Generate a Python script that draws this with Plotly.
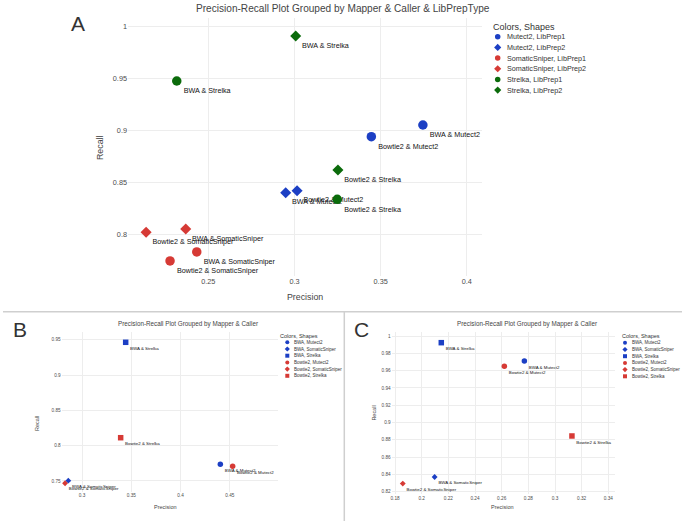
import plotly.graph_objects as go

W, H = 685, 524
FONT = "Liberation Sans, Arial, sans-serif"

BLUE = "#1c3fc4"
RED = "#d63a35"
GREEN = "#0b6b0b"

# ---------------- Panel A data ----------------
a_mapper = ["BWA", "Bowtie2"] * 6
a_caller = ["Mutect2"] * 4 + ["SomaticSniper"] * 4 + ["Strelka"] * 4
a_libprep = ["LibPrep1", "LibPrep1", "LibPrep2", "LibPrep2"] * 3
a_precision = [0.3745, 0.3446, 0.2949, 0.3015,
               0.2433, 0.2278, 0.2369, 0.2139,
               0.2317, 0.3248, 0.3007, 0.3252]
a_recall = [0.9053, 0.8940, 0.8400, 0.8420,
            0.7830, 0.7743, 0.8050, 0.8020,
            0.9477, 0.8337, 0.9910, 0.8620]
a_callers_order = ["Mutect2", "SomaticSniper", "Strelka"]
a_libprep_order = ["LibPrep1", "LibPrep2"]

# ---------------- Panel B data ----------------
b_mapper = ["BWA", "Bowtie2", "BWA", "Bowtie2", "BWA", "Bowtie2"]
b_caller = ["Mutect2", "Mutect2", "SomaticSniper", "SomaticSniper", "Strelka", "Strelka"]
b_precision = [0.4403, 0.4528, 0.2861, 0.2828, 0.3443, 0.3392]
b_recall = [0.7737, 0.7708, 0.7504, 0.7467, 0.9465, 0.8113]

# ---------------- Panel C data ----------------
c_mapper = ["BWA", "Bowtie2", "BWA", "Bowtie2", "BWA", "Bowtie2"]
c_caller = ["Mutect2", "Mutect2", "SomaticSniper", "SomaticSniper", "Strelka", "Strelka"]
c_precision = [0.2770, 0.2620, 0.2097, 0.1858, 0.2147, 0.3127]
c_recall = [0.9710, 0.9650, 0.8370, 0.8293, 0.9923, 0.8844]

bc_mapper_order = ["BWA", "Bowtie2"]
bc_caller_order = ["Mutect2", "SomaticSniper", "Strelka"]

caller_color_a = {"Mutect2": BLUE, "SomaticSniper": RED, "Strelka": GREEN}
libprep_symbol = {"LibPrep1": "circle", "LibPrep2": "diamond"}
mapper_color = {"BWA": BLUE, "Bowtie2": RED}
caller_symbol = {"Mutect2": "circle", "SomaticSniper": "diamond", "Strelka": "square"}

fig = go.Figure()


def px_x(p):
    return p / W


def px_y(p):
    return 1 - p / H


# ---------- Panel A traces ----------
a_sizes = {"circle": 9.5, "diamond": 8.5}
for cal in a_callers_order:
    for lp in a_libprep_order:
        idx = [i for i in range(len(a_mapper)) if a_caller[i] == cal and a_libprep[i] == lp]
        sym = libprep_symbol[lp]
        fig.add_trace(go.Scatter(
            x=[a_precision[i] for i in idx],
            y=[a_recall[i] for i in idx],
            text=[f"{a_mapper[i]} & {a_caller[i]}" for i in idx],
            mode="markers+text", textposition="bottom right",
            textfont=dict(size=7.2, color="#111111", family=FONT),
            marker=dict(color=caller_color_a[cal], symbol=sym, size=a_sizes[sym]),
            xaxis="x", yaxis="y", showlegend=False, cliponaxis=False,
        ))


def add_bc(mapper, caller, prec, rec, xa, ya):
    for m in bc_mapper_order:
        for cal in bc_caller_order:
            idx = [i for i in range(len(mapper)) if mapper[i] == m and caller[i] == cal]
            sym = caller_symbol[cal]
            fig.add_trace(go.Scatter(
                x=[prec[i] for i in idx],
                y=[rec[i] for i in idx],
                text=[f"{mapper[i]} & {caller[i]}" for i in idx],
                mode="markers+text", textposition="bottom right",
                textfont=dict(size=4.4, color="#111111", family=FONT),
                marker=dict(color=mapper_color[m], symbol=sym,
                            size={"circle": 5.5, "diamond": 4.5, "square": 5.5}[sym]),
                xaxis=xa, yaxis=ya, showlegend=False, cliponaxis=False,
            ))


add_bc(b_mapper, b_caller, b_precision, b_recall, "x2", "y2")
add_bc(c_mapper, c_caller, c_precision, c_recall, "x3", "y3")

# ---------- manual legends (pixel overlay axis) ----------
annotations = []


def legend(title, entries, title_x, title_y, mk_x, txt_x, y0, dy, title_size, item_size, mk_size):
    annotations.append(dict(text=title, x=px_x(title_x), y=px_y(title_y), xref="paper", yref="paper",
                            xanchor="left", yanchor="middle", showarrow=False,
                            font=dict(size=title_size, color="#333333", family=FONT)))
    xs, ys, cols, syms = [], [], [], []
    for k, (label, col, sym) in enumerate(entries):
        yy = y0 + k * dy
        xs.append(mk_x)
        ys.append(yy)
        cols.append(col)
        syms.append(sym)
        annotations.append(dict(text=label, x=px_x(txt_x), y=px_y(yy), xref="paper", yref="paper",
                                xanchor="left", yanchor="middle", showarrow=False,
                                font=dict(size=item_size, color="#333333", family=FONT)))
    fig.add_trace(go.Scatter(x=xs, y=ys, mode="markers", xaxis="x4", yaxis="y4",
                             marker=dict(color=cols, symbol=syms, size=mk_size),
                             showlegend=False, hoverinfo="skip", cliponaxis=False))


a_entries = [(f"{c}, {lp}", caller_color_a[c], libprep_symbol[lp])
             for c in a_callers_order for lp in a_libprep_order]
bc_entries = [(f"{m}, {c}", mapper_color[m], caller_symbol[c])
              for m in bc_mapper_order for c in bc_caller_order]

legend("Colors, Shapes", a_entries, 491, 26.7, 497.7, 504.5, 36.8, 10.65, 9, 7.2, 5.5)
legend("Colors, Shapes", bc_entries, 278.3, 335.5, 287.3, 291.5, 342.3, 6.7, 5.5, 4.5, 4)
legend("Colors, Shapes", bc_entries, 620.3, 335.5, 625, 629.5, 342.8, 6.7, 5.5, 4.5, 4)

# ---------- titles, axis titles, panel letters ----------
def ann(text, x, y, size, color="#444444", angle=0, anchor="center"):
    annotations.append(dict(text=text, x=px_x(x), y=px_y(y), xref="paper", yref="paper",
                            xanchor=anchor, yanchor="middle", showarrow=False, textangle=angle,
                            font=dict(size=size, color=color, family=FONT)))


ann("Precision-Recall Plot Grouped by Mapper & Caller & LibPrepType", 343, 8, 10.1)
ann("Precision-Recall Plot Grouped by Mapper & Caller", 188, 324, 6.3)
ann("Precision-Recall Plot Grouped by Mapper & Caller", 526.7, 324, 6.3)
ann("Precision", 305, 297, 8.8)
ann("Recall", 100, 148, 8.8, angle=-90)
ann("Precision", 165, 506.7, 5.5)
ann("Recall", 37.7, 423.3, 5.5, angle=-90)
ann("Precision", 502.7, 506.7, 5.5)
ann("Recall", 374.3, 413.3, 5.5, angle=-90)
ann("A", 77.5, 23.5, 21, color="#333333")
ann("B", 20, 329, 21, color="#333333")
ann("C", 361.3, 329, 21, color="#333333")

# ---------- separators ----------
shapes = [
    dict(type="line", xref="paper", yref="paper", x0=px_x(3), x1=px_x(682), y0=px_y(311.7), y1=px_y(311.7),
         line=dict(color="#cfcfcf", width=1.5)),
    dict(type="line", xref="paper", yref="paper", x0=px_x(344.3), x1=px_x(344.3), y0=px_y(311.7), y1=px_y(521),
         line=dict(color="#cfcfcf", width=1.5)),
]

common = dict(showgrid=True, gridcolor="#ededed", gridwidth=1, zeroline=False, showline=False,
              ticks="", automargin=False)

fig.update_layout(
    width=W, height=H, margin=dict(l=0, r=0, t=0, b=0),
    paper_bgcolor="white", plot_bgcolor="rgba(0,0,0,0)",
    font=dict(family=FONT, color="#444444"),
    showlegend=False, hovermode=False,
    annotations=annotations, shapes=shapes,
    xaxis=dict(domain=[px_x(128), px_x(482)], range=[0.2034, 0.4088], anchor="y",
               tickvals=[0.25, 0.3, 0.35, 0.4], tickfont=dict(size=7.3, color="#4d4d4d"), **common),
    yaxis=dict(domain=[px_y(276), px_y(18)], range=[0.7598, 1.0084], anchor="x",
               tickvals=[0.8, 0.85, 0.9, 0.95, 1.0], tickfont=dict(size=7.3, color="#4d4d4d"), **common),
    xaxis2=dict(domain=[px_x(61.7), px_x(278)], range=[0.2794, 0.4988], anchor="y2",
                tickvals=[0.3, 0.35, 0.4, 0.45], tickfont=dict(size=4.7, color="#4d4d4d"), **common),
    yaxis2=dict(domain=[px_y(491.7), px_y(331.7)], range=[0.7348, 0.9615], anchor="x2",
                tickvals=[0.75, 0.8, 0.85, 0.9, 0.95], tickfont=dict(size=4.7, color="#4d4d4d"), **common),
    xaxis3=dict(domain=[px_x(391.7), px_x(615)], range=[0.1775, 0.345], anchor="y3",
                tickvals=[0.18, 0.2, 0.22, 0.24, 0.26, 0.28, 0.3, 0.32, 0.34],
                tickfont=dict(size=4.7, color="#4d4d4d"), **common),
    yaxis3=dict(domain=[px_y(494), px_y(331.7)], range=[0.8173, 1.005], anchor="x3",
                tickvals=[0.82, 0.84, 0.86, 0.88, 0.9, 0.92, 0.94, 0.96, 0.98, 1.0],
                tickfont=dict(size=4.7, color="#4d4d4d"), **common),
    xaxis4=dict(domain=[0, 1], range=[0, W], visible=False, fixedrange=True, anchor="y4"),
    yaxis4=dict(domain=[0, 1], range=[H, 0], visible=False, fixedrange=True, anchor="x4"),
)

fig.write_html("out.html", config={"displayModeBar": False},
               post_script="document.body.style.margin='0px';document.body.style.overflow='hidden';")
